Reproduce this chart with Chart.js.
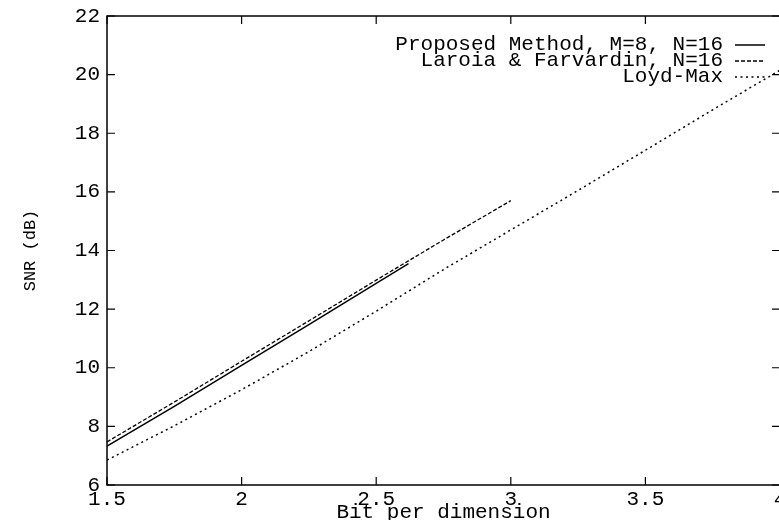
<!DOCTYPE html>
<html lang="en">
<head>
  <meta charset="UTF-8">
  <title>SNR vs bit per dimension</title>
  <script src="https://cdn.jsdelivr.net/npm/chart.js"></script>
  <style>
    html, body {
      margin: 0;
      padding: 0;
      background: #fff;
      overflow: hidden;
    }
    .wrap {
      position: relative;
      width: 782px;
      height: 530px;
    }
  </style>
</head>
<body>
  <div class="wrap"><canvas id="snrChart"></canvas></div>

  <script>
    // values
    const proposedX = [1.5, 1.75, 2.0, 2.25, 2.5, 2.62];
    const proposedY = [7.33, 8.68, 10.08, 11.47, 12.88, 13.55];

    const laroiaX = [1.5, 1.75, 2.0, 2.25, 2.5, 2.75, 3.0];
    const laroiaY = [7.47, 8.83, 10.22, 11.6, 12.99, 14.36, 15.7];

    const lloydX = [1.5, 1.75, 2.0, 2.25, 2.5, 2.75, 3.0, 3.25, 3.5, 3.75, 4.0];
    const lloydY = [6.85, 8.02, 9.25, 10.55, 11.93, 13.35, 14.7, 16.05, 17.42, 18.8, 20.15];

    const seriesLabels = ['Proposed Method, M=8, N=16', 'Laroia & Farvardin, N=16', 'Loyd-Max'];
    const xTitle = 'Bit per dimension';
    const yTitle = 'SNR (dB)';

    const FONT = "'Liberation Mono', 'DejaVu Sans Mono', monospace";

    const toPoints = (xs, ys) => xs.map((x, i) => ({ x: x, y: ys[i] }));

    // box round the plot with inward tick marks, gnuplot style
    const framePlugin = {
      id: 'frame',
      afterDatasetsDraw(chart) {
        const { ctx, chartArea: a, scales } = chart;
        ctx.save();
        ctx.strokeStyle = '#000';
        ctx.lineWidth = 1.5;
        ctx.strokeRect(a.left, a.top, a.right - a.left, a.bottom - a.top);
        ctx.lineWidth = 1.2;
        const len = 8;
        ctx.beginPath();
        scales.x.ticks.forEach(t => {
          const px = scales.x.getPixelForValue(t.value);
          ctx.moveTo(px, a.bottom); ctx.lineTo(px, a.bottom - len);
          ctx.moveTo(px, a.top); ctx.lineTo(px, a.top + len);
        });
        scales.y.ticks.forEach(t => {
          const py = scales.y.getPixelForValue(t.value);
          ctx.moveTo(a.left, py); ctx.lineTo(a.left + len, py);
          ctx.moveTo(a.right, py); ctx.lineTo(a.right - len, py);
        });
        ctx.stroke();
        ctx.restore();
      }
    };

    // key in the top right corner: text right-aligned, line sample after it
    const keyPlugin = {
      id: 'key',
      afterDatasetsDraw(chart) {
        const { ctx } = chart;
        const textRight = 723, sampleL = 735, sampleR = 765;
        let y = 44;
        ctx.save();
        ctx.font = '21px ' + FONT;
        ctx.fillStyle = '#000';
        ctx.textAlign = 'right';
        ctx.textBaseline = 'middle';
        chart.data.datasets.forEach(ds => {
          ctx.fillText(ds.label, textRight, y);
          ctx.beginPath();
          ctx.setLineDash(ds.borderDash || []);
          ctx.lineWidth = ds.borderWidth;
          ctx.strokeStyle = ds.borderColor;
          ctx.moveTo(sampleL, y + 1);
          ctx.lineTo(sampleR, y + 1);
          ctx.stroke();
          y += 16;
        });
        ctx.restore();
      }
    };

    new Chart(document.getElementById('snrChart'), {
      type: 'line',
      data: {
        datasets: [
          {
            label: seriesLabels[0],
            data: toPoints(proposedX, proposedY),
            borderColor: '#000',
            borderWidth: 1.5,
            borderDash: []
          },
          {
            label: seriesLabels[1],
            data: toPoints(laroiaX, laroiaY),
            borderColor: '#000',
            borderWidth: 1.3,
            borderDash: [4, 2]
          },
          {
            label: seriesLabels[2],
            data: toPoints(lloydX, lloydY),
            borderColor: '#000',
            borderWidth: 1.5,
            borderDash: [2, 3.5]
          }
        ]
      },
      options: {
        responsive: true,
        maintainAspectRatio: false,
        animation: false,
        layout: { padding: { top: 16, right: 2, left: 0, bottom: 0 } },
        elements: { point: { radius: 0 }, line: { tension: 0, fill: false } },
        plugins: {
          legend: { display: false },
          tooltip: { enabled: false }
        },
        scales: {
          x: {
            type: 'linear',
            min: 1.5,
            max: 4,
            grid: { display: false, drawTicks: false },
            border: { display: false },
            ticks: {
              stepSize: 0.5,
              color: '#000',
              padding: 2,
              maxRotation: 0,
              font: { family: FONT, size: 21 },
              callback: v => String(v)
            },
            title: {
              display: true,
              text: xTitle,
              color: '#000',
              font: { family: FONT, size: 21, lineHeight: 1.2 },
              padding: { top: 0, bottom: 5 }
            },
            afterFit(scale) {
              scale.height = 45;
              scale.paddingLeft = 0;
              scale.paddingRight = 0;
            }
          },
          y: {
            min: 6,
            max: 22,
            grid: { display: false, drawTicks: false },
            border: { display: false },
            ticks: {
              stepSize: 2,
              color: '#000',
              padding: 7,
              font: { family: FONT, size: 21 }
            },
            title: {
              display: true,
              text: yTitle,
              color: '#000',
              font: { family: FONT, size: 17, lineHeight: 1.2 },
              padding: { top: 20, bottom: 0 }
            },
            afterFit(scale) {
              scale.width = 107;
              scale.paddingTop = 0;
              scale.paddingBottom = 0;
            }
          }
        }
      },
      plugins: [framePlugin, keyPlugin]
    });
  </script>
</body>
</html>
